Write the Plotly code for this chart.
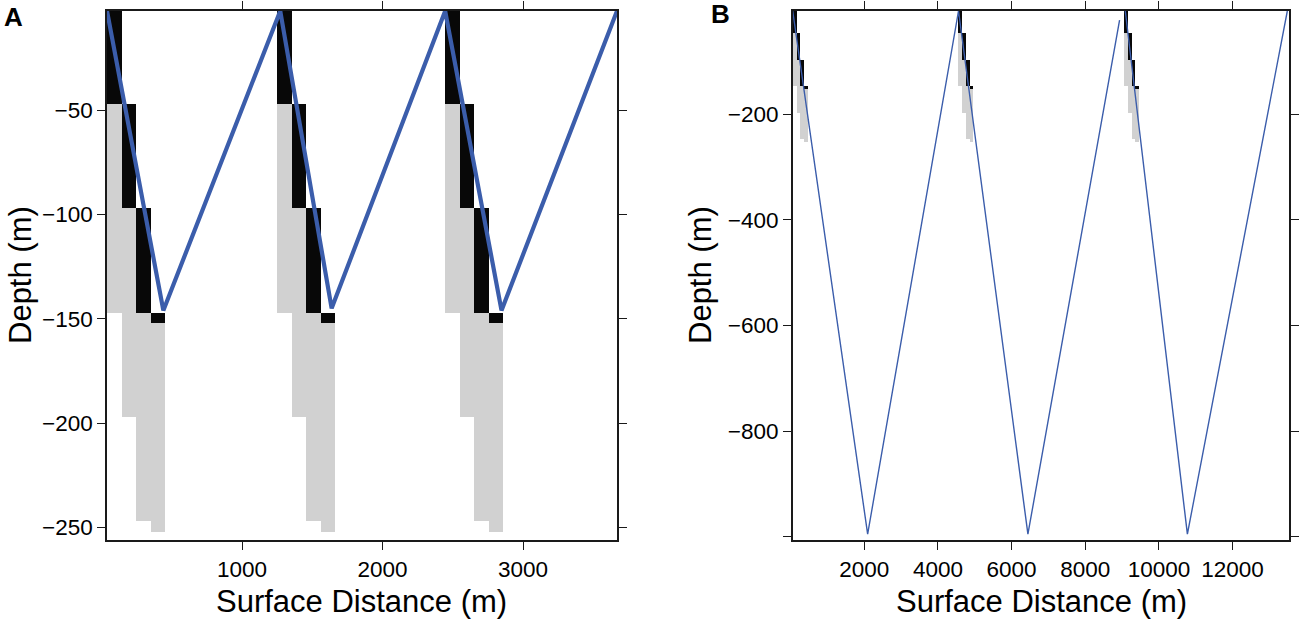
import plotly.graph_objects as go

# ---------------- data ----------------
layer_top = [0, -47, -97, -147]            # top of black (prey) segment per column
layer_bottom = [-47, -97, -147, -152]      # bottom of black segment per column
shadow_bottom = [-147, -197, -247, -252]   # bottom of grey segment per column
col_width = 103                            # m, width of each column
groups_A = [42, 1250, 2448]                # start distance of each column group, panel A
groups_B = [50, 4543, 9042]                # start distance of each column group, panel B

path_A_x = [39, 440, 1272, 1638, 2446, 2847, 3669]
path_A_y = [-2.5, -146, -2.5, -145, -2.5, -146, -2.5]
path_B_x = [57, 2092, 4559, 6443, 8932, None, 9087, 10773, 13486]
path_B_y = [-4.5, -995, -4.5, -995, -21.6, None, -4.5, -995, -4.5]

ticks_A_x = [1000, 2000, 3000]
ticks_A_y = [-250, -200, -150, -100, -50]
ticks_B_x = [2000, 4000, 6000, 8000, 10000, 12000]
ticks_B_y = [-1000, -800, -600, -400, -200]
ticklabels_B_y = ["", "\u2212800", "\u2212600", "\u2212400", "\u2212200"]

range_A_x = [39, 3669]
range_A_y = [-256, -2.5]
range_B_x = [57, 13540]
range_B_y = [-1006, -4.5]

BLUE = "#3b5dab"
GREY = "#d1d1d1"
BLACK = "#080808"
FONT = "Liberation Sans, Arial, Helvetica, sans-serif"

fig = go.Figure()


def add_columns(groups, xa, ya):
    centers, grey_base, grey_h, blk_base, blk_h = [], [], [], [], []
    for g in groups:
        for i in range(len(layer_top)):
            centers.append(g + (i + 0.5) * col_width)
            grey_base.append(layer_bottom[i])
            grey_h.append(shadow_bottom[i] - layer_bottom[i])
            blk_base.append(layer_top[i])
            blk_h.append(layer_bottom[i] - layer_top[i])
    fig.add_trace(go.Bar(x=centers, y=grey_h, base=grey_base, width=[col_width] * len(centers),
                         marker=dict(color=GREY, line=dict(width=0)), xaxis=xa, yaxis=ya,
                         showlegend=False, hoverinfo="skip"))
    fig.add_trace(go.Bar(x=centers, y=blk_h, base=blk_base, width=[col_width] * len(centers),
                         marker=dict(color=BLACK, line=dict(width=0)), xaxis=xa, yaxis=ya,
                         showlegend=False, hoverinfo="skip"))


add_columns(groups_A, "x", "y")
fig.add_trace(go.Scatter(x=path_A_x, y=path_A_y, mode="lines", line=dict(color=BLUE, width=4.2),
                         xaxis="x", yaxis="y", showlegend=False))
add_columns(groups_B, "x2", "y2")
fig.add_trace(go.Scatter(x=path_B_x, y=path_B_y, mode="lines", line=dict(color=BLUE, width=1.4),
                         xaxis="x2", yaxis="y2", showlegend=False, connectgaps=False))

W, H = 1299, 621
axis_common = dict(showline=True, linecolor="#1a1a1a", linewidth=1.5, mirror="ticks",
                   ticks="outside", ticklen=8, tickwidth=1.3, tickcolor="#1a1a1a",
                   showgrid=False, zeroline=False,
                   tickfont=dict(family=FONT, size=22.5, color="black"))

fig.update_layout(
    width=W, height=H,
    margin=dict(l=0, r=0, t=0, b=0),
    paper_bgcolor="white", plot_bgcolor="white",
    barmode="overlay", bargap=0,
    font=dict(family=FONT, color="black"),
    xaxis=dict(domain=[107 / W, 617 / W], range=range_A_x, tickvals=ticks_A_x,
               tickformat="d", anchor="y", **axis_common),
    yaxis=dict(domain=[1 - 540 / H, 1 - 11 / H], range=range_A_y, tickvals=ticks_A_y,
               anchor="x", **axis_common),
    xaxis2=dict(domain=[792.7 / W, 1289.3 / W], range=range_B_x, tickvals=ticks_B_x,
                tickformat="d", anchor="y2", **axis_common),
    yaxis2=dict(domain=[1 - 540 / H, 1 - 11 / H], range=range_B_y, tickvals=ticks_B_y,
                ticktext=ticklabels_B_y, anchor="x2", **axis_common),
)

title_font = dict(family=FONT, size=31, color="black")
ann = [
    dict(text="Surface Distance (m)", x=361 / W, y=1 - 601 / H, font=title_font),
    dict(text="Surface Distance (m)", x=1041 / W, y=1 - 601 / H, font=title_font),
    dict(text="Depth (m)", x=20 / W, y=1 - 275 / H, textangle=-90, font=title_font),
    dict(text="Depth (m)", x=700 / W, y=1 - 275 / H, textangle=-90, font=title_font),
    dict(text="<b>A</b>", x=13 / W, y=1 - 17 / H, font=dict(family=FONT, size=26, color="black")),
    dict(text="<b>B</b>", x=720 / W, y=1 - 14 / H, font=dict(family=FONT, size=26, color="black")),
]
for a in ann:
    a.update(xref="paper", yref="paper", showarrow=False, xanchor="center", yanchor="middle")
fig.update_layout(annotations=ann)

fig.write_html("out.html",
               config={"displayModeBar": False},
               post_script="document.body.style.margin='0';document.body.style.overflow='hidden';")
